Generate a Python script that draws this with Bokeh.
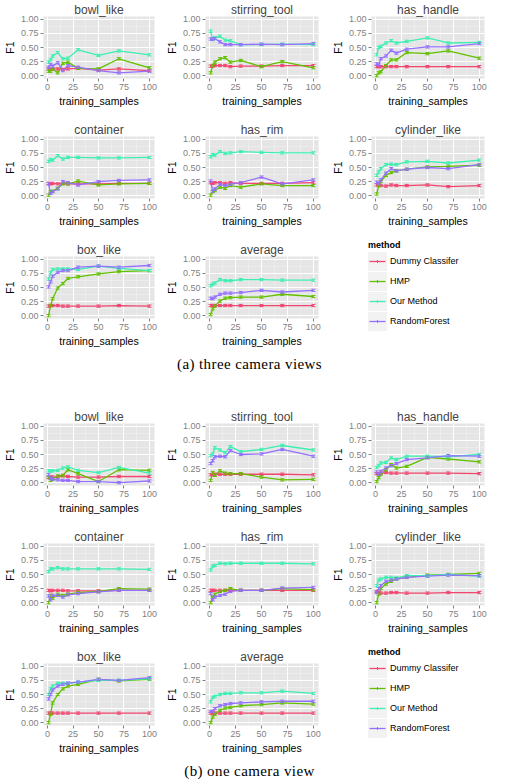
from bokeh.plotting import figure
from bokeh.models import (Range1d, FixedTicker, PrintfTickFormatter, ColumnDataSource,
                          Whisker, TeeHead, Div)
from bokeh.layouts import column, row
from bokeh.embed import file_html
from bokeh.resources import INLINE

TRAINING_SAMPLES = [1, 3, 5, 10, 15, 20, 30, 50, 70, 100]
METHODS = ["Dummy Classifer", "HMP", "Our Method", "RandomForest"]
COLORS = ["#F2456F", "#62C000", "#3DEFB0", "#9470FF"]
LEGEND_TITLE = "method"
ERR = 0.02

# ---------------- (a) three camera views ----------------
A_BOWL_LIKE = {
    "Dummy Classifer": [0.12, 0.11, 0.12, 0.12, 0.11, 0.12, 0.13, 0.10, 0.12, 0.09],
    "HMP":             [0.08, 0.08, 0.12, 0.05, 0.22, 0.24, 0.13, 0.12, 0.30, 0.14],
    "Our Method":      [0.24, 0.28, 0.35, 0.41, 0.30, 0.31, 0.46, 0.36, 0.44, 0.37],
    "RandomForest":    [0.15, 0.20, 0.17, 0.23, 0.09, 0.18, 0.15, 0.09, 0.05, 0.08],
}
A_STIRRING_TOOL = {
    "Dummy Classifer": [0.17, 0.17, 0.18, 0.18, 0.18, 0.16, 0.17, 0.17, 0.18, 0.18],
    "HMP":             [0.05, 0.18, 0.24, 0.30, 0.32, 0.24, 0.27, 0.16, 0.25, 0.14],
    "Our Method":      [0.79, 0.64, 0.67, 0.70, 0.63, 0.62, 0.55, 0.55, 0.56, 0.55],
    "RandomForest":    [0.65, 0.65, 0.66, 0.60, 0.55, 0.55, 0.55, 0.56, 0.55, 0.57],
}
A_HAS_HANDLE = {
    "Dummy Classifer": [0.16, 0.16, 0.16, 0.16, 0.16, 0.16, 0.16, 0.16, 0.16, 0.16],
    "HMP":             [0.00, 0.05, 0.07, 0.18, 0.28, 0.28, 0.41, 0.39, 0.44, 0.31],
    "Our Method":      [0.37, 0.50, 0.52, 0.58, 0.62, 0.58, 0.61, 0.67, 0.58, 0.59],
    "RandomForest":    [0.21, 0.19, 0.30, 0.35, 0.45, 0.40, 0.47, 0.51, 0.51, 0.57],
}
A_CONTAINER = {
    "Dummy Classifer": [0.22, 0.21, 0.22, 0.21, 0.22, 0.21, 0.21, 0.21, 0.22, 0.22],
    "HMP":             [0.01, 0.07, 0.08, 0.13, 0.21, 0.21, 0.26, 0.19, 0.21, 0.22],
    "Our Method":      [0.61, 0.64, 0.63, 0.71, 0.65, 0.68, 0.68, 0.67, 0.67, 0.68],
    "RandomForest":    [0.21, 0.04, 0.07, 0.12, 0.25, 0.23, 0.19, 0.25, 0.27, 0.28],
}
A_HAS_RIM = {
    "Dummy Classifer": [0.23, 0.22, 0.23, 0.23, 0.22, 0.23, 0.22, 0.22, 0.22, 0.23],
    "HMP":             [0.01, 0.07, 0.09, 0.15, 0.13, 0.18, 0.15, 0.21, 0.18, 0.18],
    "Our Method":      [0.69, 0.73, 0.72, 0.78, 0.75, 0.76, 0.78, 0.77, 0.76, 0.76],
    "RandomForest":    [0.26, 0.08, 0.12, 0.20, 0.18, 0.20, 0.23, 0.33, 0.21, 0.28],
}
A_CYLINDER_LIKE = {
    "Dummy Classifer": [0.19, 0.19, 0.18, 0.17, 0.19, 0.18, 0.18, 0.19, 0.16, 0.18],
    "HMP":             [0.03, 0.18, 0.25, 0.36, 0.41, 0.44, 0.47, 0.51, 0.52, 0.54],
    "Our Method":      [0.36, 0.42, 0.48, 0.55, 0.56, 0.55, 0.60, 0.61, 0.58, 0.63],
    "RandomForest":    [0.24, 0.22, 0.28, 0.40, 0.48, 0.44, 0.47, 0.50, 0.48, 0.55],
}
A_BOX_LIKE = {
    "Dummy Classifer": [0.17, 0.18, 0.18, 0.18, 0.17, 0.17, 0.17, 0.17, 0.18, 0.17],
    "HMP":             [0.00, 0.18, 0.30, 0.49, 0.57, 0.66, 0.69, 0.74, 0.78, 0.80],
    "Our Method":      [0.65, 0.76, 0.82, 0.83, 0.83, 0.83, 0.82, 0.88, 0.84, 0.80],
    "RandomForest":    [0.51, 0.60, 0.70, 0.77, 0.80, 0.80, 0.86, 0.88, 0.86, 0.89],
}
A_AVERAGE = {
    "Dummy Classifer": [0.18, 0.18, 0.18, 0.18, 0.18, 0.18, 0.18, 0.18, 0.18, 0.18],
    "HMP":             [0.02, 0.12, 0.17, 0.26, 0.31, 0.32, 0.33, 0.33, 0.38, 0.34],
    "Our Method":      [0.53, 0.56, 0.58, 0.64, 0.62, 0.62, 0.64, 0.64, 0.63, 0.63],
    "RandomForest":    [0.31, 0.30, 0.33, 0.38, 0.40, 0.40, 0.41, 0.45, 0.42, 0.45],
}

# ---------------- (b) one camera view ----------------
B_BOWL_LIKE = {
    "Dummy Classifer": [0.09, 0.10, 0.10, 0.10, 0.12, 0.11, 0.10, 0.10, 0.11, 0.11],
    "HMP":             [0.10, 0.04, 0.07, 0.12, 0.13, 0.23, 0.16, 0.02, 0.23, 0.22],
    "Our Method":      [0.21, 0.21, 0.21, 0.22, 0.26, 0.28, 0.22, 0.18, 0.27, 0.17],
    "RandomForest":    [0.14, 0.08, 0.06, 0.05, 0.04, 0.04, 0.02, 0.02, 0.00, 0.03],
}
B_STIRRING_TOOL = {
    "Dummy Classifer": [0.14, 0.15, 0.15, 0.15, 0.15, 0.15, 0.15, 0.15, 0.15, 0.14],
    "HMP":             [0.04, 0.18, 0.13, 0.21, 0.17, 0.16, 0.16, 0.10, 0.05, 0.06],
    "Our Method":      [0.48, 0.51, 0.62, 0.58, 0.53, 0.64, 0.55, 0.59, 0.66, 0.58],
    "RandomForest":    [0.34, 0.39, 0.46, 0.47, 0.46, 0.57, 0.50, 0.51, 0.59, 0.47],
}
B_HAS_HANDLE = {
    "Dummy Classifer": [0.16, 0.16, 0.17, 0.18, 0.17, 0.17, 0.17, 0.17, 0.17, 0.16],
    "HMP":             [0.02, 0.09, 0.15, 0.23, 0.32, 0.26, 0.29, 0.45, 0.42, 0.37],
    "Our Method":      [0.27, 0.30, 0.35, 0.36, 0.44, 0.41, 0.47, 0.47, 0.46, 0.50],
    "RandomForest":    [0.19, 0.15, 0.20, 0.26, 0.30, 0.34, 0.41, 0.44, 0.48, 0.47],
}
B_CONTAINER = {
    "Dummy Classifer": [0.22, 0.21, 0.22, 0.22, 0.22, 0.21, 0.21, 0.21, 0.22, 0.22],
    "HMP":             [0.00, 0.13, 0.08, 0.15, 0.13, 0.15, 0.18, 0.20, 0.25, 0.24],
    "Our Method":      [0.55, 0.60, 0.60, 0.62, 0.60, 0.60, 0.60, 0.60, 0.60, 0.59],
    "RandomForest":    [0.12, 0.05, 0.13, 0.13, 0.10, 0.14, 0.16, 0.19, 0.22, 0.22],
}
B_HAS_RIM = {
    "Dummy Classifer": [0.22, 0.22, 0.22, 0.22, 0.22, 0.22, 0.22, 0.22, 0.22, 0.22],
    "HMP":             [0.00, 0.10, 0.15, 0.20, 0.22, 0.25, 0.22, 0.22, 0.25, 0.23],
    "Our Method":      [0.58, 0.65, 0.66, 0.70, 0.69, 0.70, 0.70, 0.70, 0.70, 0.69],
    "RandomForest":    [0.16, 0.05, 0.10, 0.13, 0.15, 0.20, 0.22, 0.22, 0.26, 0.27],
}
B_CYLINDER_LIKE = {
    "Dummy Classifer": [0.20, 0.18, 0.17, 0.17, 0.18, 0.18, 0.17, 0.17, 0.18, 0.18],
    "HMP":             [0.00, 0.15, 0.25, 0.33, 0.38, 0.42, 0.45, 0.49, 0.50, 0.52],
    "Our Method":      [0.30, 0.40, 0.42, 0.45, 0.45, 0.44, 0.48, 0.48, 0.50, 0.47],
    "RandomForest":    [0.18, 0.25, 0.30, 0.38, 0.40, 0.42, 0.45, 0.47, 0.49, 0.48],
}
B_BOX_LIKE = {
    "Dummy Classifer": [0.17, 0.17, 0.17, 0.17, 0.17, 0.17, 0.17, 0.17, 0.17, 0.17],
    "HMP":             [0.00, 0.15, 0.35, 0.50, 0.60, 0.65, 0.68, 0.77, 0.74, 0.77],
    "Our Method":      [0.50, 0.60, 0.65, 0.70, 0.70, 0.70, 0.72, 0.75, 0.75, 0.78],
    "RandomForest":    [0.42, 0.50, 0.58, 0.65, 0.68, 0.70, 0.72, 0.77, 0.75, 0.80],
}
B_AVERAGE = {
    "Dummy Classifer": [0.17, 0.17, 0.17, 0.17, 0.17, 0.17, 0.17, 0.17, 0.17, 0.17],
    "HMP":             [0.00, 0.10, 0.15, 0.22, 0.26, 0.27, 0.30, 0.32, 0.35, 0.33],
    "Our Method":      [0.37, 0.45, 0.47, 0.50, 0.52, 0.52, 0.53, 0.53, 0.56, 0.52],
    "RandomForest":    [0.20, 0.20, 0.25, 0.30, 0.32, 0.34, 0.35, 0.37, 0.38, 0.38],
}

SECTION_A = [("bowl_like", A_BOWL_LIKE), ("stirring_tool", A_STIRRING_TOOL), ("has_handle", A_HAS_HANDLE),
             ("container", A_CONTAINER), ("has_rim", A_HAS_RIM), ("cylinder_like", A_CYLINDER_LIKE),
             ("box_like", A_BOX_LIKE), ("average", A_AVERAGE)]
SECTION_B = [("bowl_like", B_BOWL_LIKE), ("stirring_tool", B_STIRRING_TOOL), ("has_handle", B_HAS_HANDLE),
             ("container", B_CONTAINER), ("has_rim", B_HAS_RIM), ("cylinder_like", B_CYLINDER_LIKE),
             ("box_like", B_BOX_LIKE), ("average", B_AVERAGE)]
CAPTION_A = "(a) three camera views"
CAPTION_B = "(b) one camera view"

FONT = "Liberation Sans"
GREY_TXT = "#7F7F7F"

# column geometry: (width, min_border_left, min_border_right)
COLS = [(162, 38, 8), (166, 40, 10), (161, 40, 5)]


def make_panel(title, data, col, height, bottom):
    width, left, right = COLS[col]
    p = figure(width=width, height=height, title=title,
               x_range=Range1d(-3.95, 104.95), y_range=Range1d(-0.05, 1.05),
               output_backend="svg", toolbar_location=None,
               min_border_left=left, min_border_right=right,
               min_border_top=14, min_border_bottom=bottom,
               background_fill_color="#E5E5E5", border_fill_color="white",
               outline_line_color=None)
    p.title.text_font = FONT
    p.title.text_font_size = "12px"
    p.title.text_font_style = "normal"
    p.title.align = "center"
    p.title.standoff = 0
    p.title.offset = 0

    p.xaxis.ticker = FixedTicker(ticks=[0, 25, 50, 75, 100], minor_ticks=[12.5, 37.5, 62.5, 87.5])
    p.yaxis.ticker = FixedTicker(ticks=[0, 0.25, 0.5, 0.75, 1.0],
                                 minor_ticks=[0.125, 0.375, 0.625, 0.875])
    p.yaxis.formatter = PrintfTickFormatter(format="%.2f")
    p.xaxis.axis_label = "training_samples"
    p.yaxis.axis_label = "F1"
    for ax in (p.xaxis, p.yaxis):
        ax.axis_line_color = None
        ax.major_tick_line_color = GREY_TXT
        ax.major_tick_out = 3
        ax.major_tick_in = 0
        ax.minor_tick_out = 0
        ax.minor_tick_in = 0
        ax.major_label_text_color = GREY_TXT
        ax.major_label_text_font = FONT
        ax.major_label_text_font_size = "9px"
        ax.major_label_standoff = 2
        ax.axis_label_text_font = FONT
        ax.axis_label_text_font_size = "10.5px"
        ax.axis_label_text_font_style = "normal"
        ax.axis_label_text_color = "black"
        ax.axis_label_standoff = 2
    for g in (p.xgrid, p.ygrid):
        g.grid_line_color = "white"
        g.grid_line_width = 1
        g.minor_grid_line_color = "#F2F2F2"
        g.minor_grid_line_width = 0.5

    for m, c in zip(METHODS, COLORS):
        ys = data[m]
        src = ColumnDataSource(dict(x=TRAINING_SAMPLES, y=ys,
                                    lo=[v - ERR for v in ys], hi=[v + ERR for v in ys]))
        p.add_layout(Whisker(source=src, base="x", lower="lo", upper="hi", level="glyph",
                             line_color=c, line_width=1,
                             lower_head=TeeHead(size=4, line_color=c, line_width=1),
                             upper_head=TeeHead(size=4, line_color=c, line_width=1)))
        p.line("x", "y", source=src, line_color=c, line_width=1.3)
    return p


def make_legend(height):
    width = COLS[2][0]
    html = ['<div style="position:relative;width:%dpx;height:%dpx;font-family:\'%s\';color:black;">'
            % (width, height, FONT)]
    html.append('<div style="position:absolute;left:40px;top:0px;font-size:9px;line-height:11px;'
                'font-weight:bold;">%s</div>' % LEGEND_TITLE)
    html.append('<div style="position:absolute;left:40px;top:12px;">')
    for m, c in zip(METHODS, COLORS):
        html.append(
            '<div style="display:flex;align-items:center;height:19px;margin-bottom:1px;">'
            '<svg width="19" height="19" style="display:block;">'
            '<rect x="0" y="0" width="19" height="19" fill="#F2F2F2"/>'
            '<line x1="1.5" y1="9.5" x2="17.5" y2="9.5" stroke="%s" stroke-width="1.3"/>'
            '<line x1="9.5" y1="8" x2="9.5" y2="11" stroke="%s" stroke-width="1"/>'
            '</svg>'
            '<span style="margin-left:3px;font-size:9px;line-height:11px;white-space:nowrap;">%s</span>'
            '</div>' % (c, c, m))
    html.append('</div></div>')
    return Div(text="".join(html), width=width, height=height, margin=0)


def make_section(panels):
    rows = []
    for r in range(3):
        figs = []
        h, b = (120, 42) if r < 2 else (112, 34)
        for c in range(3):
            i = r * 3 + c
            if i < len(panels):
                figs.append(make_panel(panels[i][0], panels[i][1], c, h, b))
            else:
                figs.append(make_legend(h))
        rows.append(row(*figs, spacing=0))
    return rows


def caption(text, h):
    return Div(text='<div style="width:489px;text-align:center;font-family:\'Liberation Serif\';'
                    'font-size:15px;line-height:15px;letter-spacing:0.4px;color:black;">'
                    + text + '</div>',
               width=489, height=h)


layout = column(*make_section(SECTION_A), caption(CAPTION_A, 45),
                *make_section(SECTION_B), caption(CAPTION_B, 16), spacing=0)

open("out.html", "w").write(file_html(layout, INLINE))
